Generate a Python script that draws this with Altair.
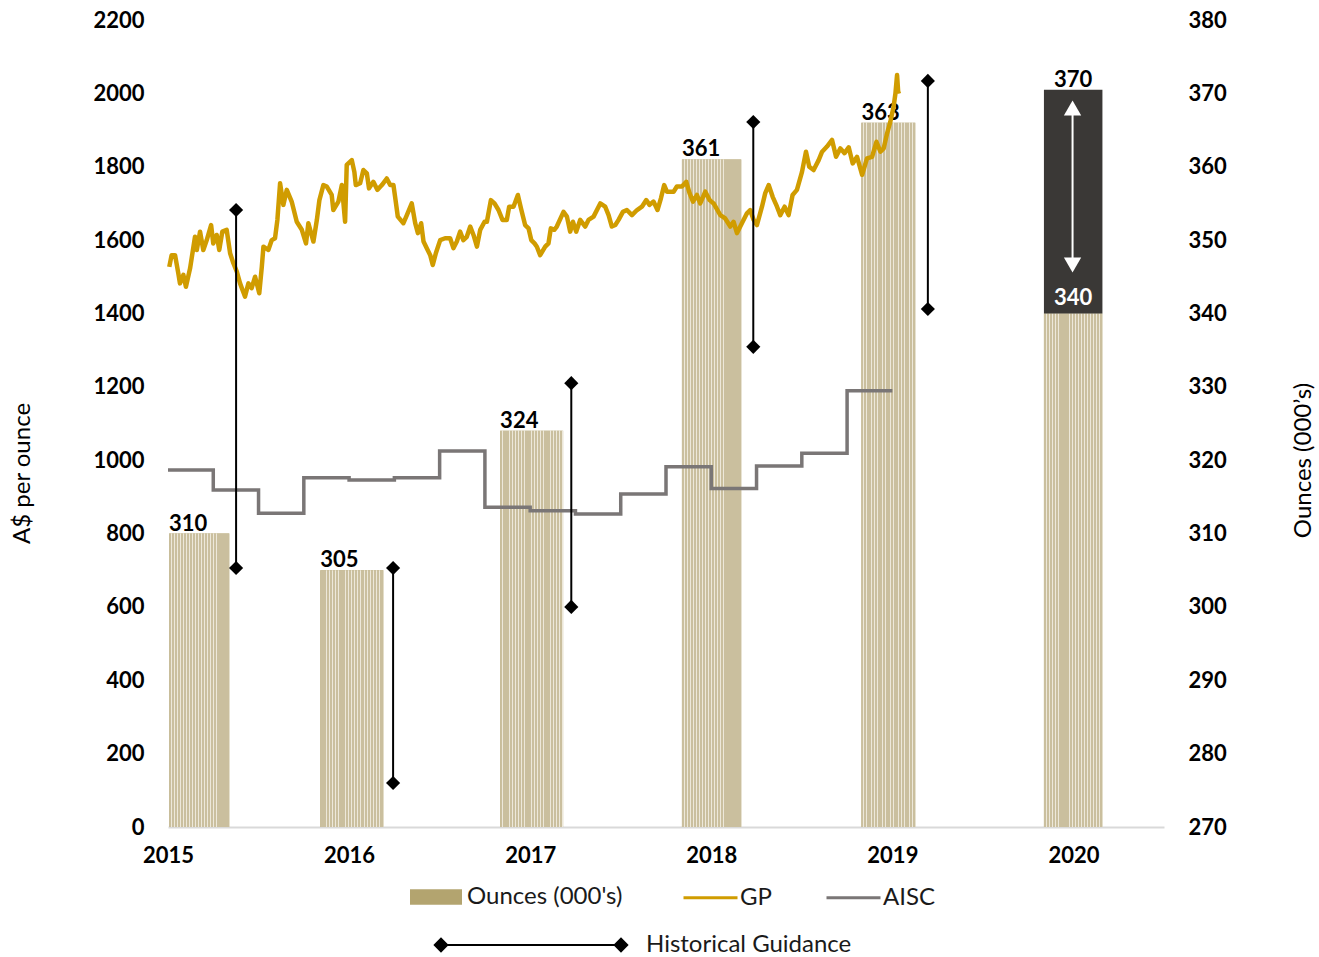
import altair as alt
import pandas as pd

# ---------------- data ----------------
# Production bars (Ounces, 000's) - right axis; x extent in decimal years
bar_year = ["2015", "2016", "2017", "2018", "2019", "2020"]
bar_start = [2015.006, 2015.841, 2016.834, 2017.838, 2018.829, 2019.837]
bar_end = [2015.339, 2016.190, 2017.182, 2018.166, 2019.127, 2020.160]
bar_ounces = [310, 305, 324, 361, 366, 340]
bar_labels = ["310", "305", "324", "361", "363", "340"]
range_2020 = [340, 370.5]
range_2020_labels = ["340", "370"]

# Gold price (A$/oz), decimal year
gp_t = [2015.007, 2015.020, 2015.039, 2015.057, 2015.066, 2015.085, 2015.099, 2015.122, 2015.149, 2015.159,
        2015.177, 2015.195, 2015.214, 2015.238, 2015.250, 2015.269, 2015.283, 2015.300, 2015.324, 2015.343,
        2015.361, 2015.380, 2015.398, 2015.425, 2015.444, 2015.462, 2015.481, 2015.504, 2015.518, 2015.527,
        2015.554, 2015.573, 2015.591, 2015.604, 2015.619, 2015.637, 2015.656, 2015.683, 2015.711, 2015.739,
        2015.762, 2015.775, 2015.803, 2015.822, 2015.836, 2015.858, 2015.877, 2015.904, 2015.913, 2015.941,
        2015.960, 2015.978, 2015.987,
        2016.015, 2016.029, 2016.037, 2016.061, 2016.079, 2016.098, 2016.110, 2016.134, 2016.156, 2016.181,
        2016.208, 2016.227, 2016.245, 2016.254, 2016.269, 2016.300, 2016.319, 2016.346, 2016.365, 2016.380,
        2016.398, 2016.411, 2016.429, 2016.448, 2016.462, 2016.479, 2016.503, 2016.530, 2016.558, 2016.576,
        2016.595, 2016.613, 2016.631, 2016.650, 2016.669, 2016.687, 2016.706, 2016.724, 2016.748, 2016.761,
        2016.783, 2016.803, 2016.825, 2016.847, 2016.871, 2016.884, 2016.908, 2016.932, 2016.949, 2016.972,
        2016.991,
        2017.006, 2017.024, 2017.037, 2017.055, 2017.083, 2017.101, 2017.114, 2017.133, 2017.147, 2017.184,
        2017.203, 2017.221, 2017.236, 2017.254, 2017.276, 2017.304, 2017.322, 2017.350, 2017.387, 2017.414,
        2017.433, 2017.451, 2017.470, 2017.488, 2017.512, 2017.534, 2017.562, 2017.590, 2017.617, 2017.641,
        2017.659, 2017.681, 2017.703, 2017.722, 2017.740, 2017.755, 2017.792, 2017.810, 2017.838, 2017.862,
        2017.880, 2017.899, 2017.921, 2017.939, 2017.967, 2017.991,
        2018.013, 2018.050, 2018.077, 2018.105, 2018.123, 2018.142, 2018.169, 2018.197, 2018.215, 2018.234,
        2018.252, 2018.280, 2018.298, 2018.317, 2018.339, 2018.363, 2018.381, 2018.405, 2018.427, 2018.449,
        2018.473, 2018.501, 2018.523, 2018.541, 2018.565, 2018.593, 2018.612, 2018.639, 2018.667, 2018.689,
        2018.713, 2018.736, 2018.759, 2018.781, 2018.805, 2018.833, 2018.860, 2018.888, 2018.912, 2018.934,
        2018.952, 2018.971, 2018.989,
        2019.007, 2019.017, 2019.026, 2019.032, 2019.044]
gp_v = [1527, 1559, 1559, 1509, 1482, 1505, 1473, 1523, 1609, 1573,
        1623, 1573, 1600, 1641, 1591, 1614, 1573, 1623, 1628, 1564,
        1537, 1514, 1482, 1446, 1482, 1469, 1500, 1455, 1527, 1582,
        1573, 1600, 1605, 1655, 1755, 1696, 1737, 1705, 1650, 1628,
        1591, 1646, 1596, 1655, 1709, 1750, 1746, 1723, 1682, 1705,
        1750, 1650, 1805,
        1818, 1786, 1750, 1755, 1791, 1782, 1741, 1759, 1737, 1750,
        1768, 1750, 1750, 1718, 1664, 1646, 1668, 1700, 1646, 1619,
        1646, 1596, 1578, 1559, 1532, 1564, 1600, 1605, 1605, 1578,
        1596, 1623, 1600, 1609, 1637, 1614, 1582, 1628, 1650, 1650,
        1709, 1700, 1682, 1655, 1655, 1691, 1691, 1723, 1687, 1641,
        1632,
        1600, 1591, 1582, 1559, 1582, 1591, 1632, 1628, 1637, 1677,
        1664, 1623, 1650, 1623, 1655, 1637, 1655, 1664, 1700, 1691,
        1668, 1637, 1641, 1655, 1677, 1682, 1668, 1682, 1691, 1709,
        1696, 1705, 1682, 1714, 1750, 1732, 1732, 1746, 1746, 1759,
        1728, 1705, 1723, 1700, 1732, 1709,
        1700, 1668, 1659, 1637, 1650, 1619, 1646, 1673, 1682, 1655,
        1641, 1691, 1728, 1750, 1718, 1691, 1668, 1691, 1668, 1723,
        1737, 1786, 1841, 1800, 1791, 1818, 1841, 1855, 1873, 1827,
        1850, 1837, 1853, 1809, 1827, 1778, 1823, 1827, 1868, 1841,
        1850, 1891, 1923,
        1964, 2000, 2050, 2005, 2007]

# AISC (A$/oz), quarterly steps
aisc_t = [2015.0, 2015.25, 2015.5, 2015.75, 2016.0, 2016.25, 2016.5, 2016.75,
          2017.0, 2017.25, 2017.5, 2017.75, 2018.0, 2018.25, 2018.5, 2018.75, 2019.0]
aisc_v = [973, 919, 855, 952, 946, 952, 1025, 872,
          862, 853, 908, 982, 923, 984, 1019, 1189, 1189]

# Historical guidance ranges (left-axis units)
guide_t = [2015.376, 2016.243, 2017.227, 2018.232, 2019.196]
guide_hi = [1682, 706, 1210, 1922, 2034]
guide_lo = [706, 120, 600, 1309, 1412]

# 2020 guidance arrow (right-axis units)
arrow_t = [2019.995]
arrow_top = [368.0]
arrow_bottom = [346.6]

x_ticks = [2015, 2016, 2017, 2018, 2019, 2020]
left_ticks = list(range(0, 2201, 200))
right_ticks = list(range(270, 381, 10))

# ---------------- styles ----------------
FONT = "Lato"
GOLD = "#D09C00"
GREY = "#7A7676"
TAN_LEG = "#B3A46F"
DARK = "#3A3836"
TXT = 24


def stripes(n, c1, c2, frac):
    stops = []
    for i in range(n):
        a, b, c = i / n, (i + frac) / n, (i + 1) / n
        stops += [alt.GradientStop(color=c1, offset=a), alt.GradientStop(color=c1, offset=b),
                  alt.GradientStop(color=c2, offset=b), alt.GradientStop(color=c2, offset=c)]
    return alt.LinearGradient(gradient="linear", stops=stops, x1=0, x2=1, y1=0, y2=0)


bars = pd.DataFrame({"year": bar_year, "start": bar_start, "end": bar_end, "oz": bar_ounces,
                     "lab": bar_labels, "leg": "Ounces (000's)"})
bars["mid"] = (bars["start"] + bars["end"]) / 2
hist_bars = bars[bars["year"] != "2020"]
bar20 = bars[bars["year"] == "2020"].copy()
bar20["lo"] = range_2020[0]
bar20["hi"] = range_2020[1]
bar20["lo_lab"] = range_2020_labels[0]
bar20["hi_lab"] = range_2020_labels[1]

gp = pd.DataFrame({"t": gp_t, "v": gp_v, "series": "GP"})
aisc = pd.DataFrame({"t": aisc_t, "v": aisc_v, "series": "AISC"})
guide = pd.DataFrame({"t": guide_t, "hi": guide_hi, "lo": guide_lo})
guide_pts = pd.DataFrame({"t": guide_t + guide_t, "v": guide_hi + guide_lo, "name": "Historical Guidance"})
arrow = pd.DataFrame({"t": arrow_t, "top": arrow_top, "bot": arrow_bottom})

xscale = alt.Scale(domain=[2015, 2020.5], nice=False, zero=False)
xaxis = alt.Axis(values=x_ticks, format="d", grid=False, ticks=False, tickSize=0, domainColor="#D9D9D9",
                 domainWidth=2, labelPadding=18, labelFont=FONT, labelFontSize=22, labelFontWeight="bold",
                 labelColor="black", title=None, labelFlush=False, labelOverlap=False)

lscale = alt.Scale(domain=[0, 2200], nice=False, zero=False)
laxis = alt.Axis(orient="left", values=left_ticks, format="d", title="A$ per ounce", grid=False, domain=False,
                 ticks=False, tickSize=0, labelPadding=24, labelFont=FONT, labelFontSize=22,
                 labelFontWeight="bold", labelColor="black", titleFont=FONT, titleFontSize=TXT,
                 titleFontWeight="normal", titleColor="black", titleAngle=270, titleX=-146, titleY=453,
                 titleBaseline="middle")
rscale = alt.Scale(domain=[270, 380], nice=False, zero=False)
raxis = alt.Axis(orient="right", values=right_ticks, format="d", title="Ounces (000\u2019s)", grid=False,
                 domain=False, ticks=False, tickSize=0, labelPadding=24, labelFont=FONT, labelFontSize=22,
                 labelFontWeight="bold", labelColor="black", titleFont=FONT, titleFontSize=TXT,
                 titleFontWeight="normal", titleColor="black", titleAngle=270, titleX=139, titleY=440,
                 titleBaseline="middle")


def X(f):
    return alt.X(f, type="quantitative", scale=xscale, axis=xaxis)


def YL(f):
    return alt.Y(f, type="quantitative", scale=lscale, axis=laxis)


def YR(f):
    return alt.Y(f, type="quantitative", scale=rscale, axis=raxis)


LEG_LABEL = dict(labelFont=FONT, labelFontSize=TXT, labelColor="#1A1A1A", labelLimit=500, title=None,
                 orient="none", direction="horizontal")

# ---- right-axis layer: bars ----
bar_base = alt.Chart(bars).mark_rect().encode(
    x=X("start"), x2="end", y=YR("oz"), y2=alt.datum(270),
    fill=alt.Fill("leg:N", scale=alt.Scale(domain=["Ounces (000's)"], range=[TAN_LEG]),
                  legend=alt.Legend(symbolType="M-1,-0.3H1V0.3H-1Z", symbolSize=2704, symbolStrokeWidth=0,
                                    labelOffset=5, legendX=242, legendY=851, **LEG_LABEL)))
bar_tex = alt.Chart(bars).mark_rect(color=stripes(20, "#CABF9E", "#EDE8DA", 0.72)).encode(
    x=X("start"), x2="end", y=YR("oz"), y2=alt.datum(270))
box = alt.Chart(bar20).mark_rect(color=DARK).encode(x=X("start"), x2="end", y=YR("hi"), y2="lo")
bar_lab = alt.Chart(hist_bars).mark_text(font=FONT, fontSize=22, fontWeight="bold", color="black",
                                         align="left", baseline="alphabetic", dy=-3).encode(
    x=X("start"), y=YR("oz"), text="lab:N")
hi_lab = alt.Chart(bar20).mark_text(font=FONT, fontSize=22, fontWeight="bold", color="black",
                                    align="center", baseline="alphabetic", dy=-3).encode(
    x=X("mid"), y=YR("hi"), text="hi_lab:N")
lo_lab = alt.Chart(bar20).mark_text(font=FONT, fontSize=22, fontWeight="bold", color="white",
                                    align="center", baseline="alphabetic", dy=-8).encode(
    x=X("mid"), y=YR("lo"), text="lo_lab:N")
arrow_line = alt.Chart(arrow).mark_rule(color="white", strokeWidth=2).encode(x=X("t"), y=YR("top"), y2="bot")
arrow_up = alt.Chart(arrow).mark_point(shape="triangle-up", filled=True, color="white", size=300,
                                       opacity=1).encode(x=X("t"), y=YR("top"))
arrow_dn = alt.Chart(arrow).mark_point(shape="triangle-down", filled=True, color="white", size=300,
                                       opacity=1).encode(x=X("t"), y=YR("bot"))
right = alt.layer(bar_base, bar_tex, box, bar_lab, hi_lab, lo_lab, arrow_line, arrow_up, arrow_dn)

# ---- left-axis layer: lines & guidance ----
stroke_enc = alt.Stroke("series:N", scale=alt.Scale(domain=["GP", "AISC"], range=[GOLD, GREY]),
                        legend=alt.Legend(symbolType="stroke", symbolSize=2916, symbolStrokeWidth=3,
                                          labelOffset=1, columnPadding=48, legendX=514, legendY=849,
                                          **LEG_LABEL))
aisc_line = alt.Chart(aisc).mark_line(strokeWidth=3.5, interpolate="step-after").encode(
    x=X("t"), y=YL("v"), stroke=stroke_enc)
gp_line = alt.Chart(gp).mark_line(strokeWidth=4.5, strokeJoin="round").encode(
    x=X("t"), y=YL("v"), stroke=stroke_enc)
guide_rule = alt.Chart(guide).mark_rule(color="black", strokeWidth=2).encode(x=X("t"), y=YL("hi"), y2="lo")
GUIDE_PATH = ("M-1,-0.012L1,-0.012L1,0.012L-1,0.012Z "
              "M-1,-0.085L-0.915,0L-1,0.085L-1.085,0Z M1,-0.085L1.085,0L1,0.085L0.915,0Z")
guide_pt = alt.Chart(guide_pts).mark_point(shape="diamond", filled=True, size=200, opacity=1).encode(
    x=X("t"), y=YL("v"),
    color=alt.Color("name:N", scale=alt.Scale(domain=["Historical Guidance"], range=["black"]),
                    legend=alt.Legend(symbolType=GUIDE_PATH, symbolSize=32400, symbolStrokeWidth=0,
                                      labelOffset=25, legendX=273, legendY=835, **LEG_LABEL)))
left = alt.layer(aisc_line, gp_line, guide_rule, guide_pt)

chart = alt.layer(right, left).resolve_scale(
    y="independent", fill="independent", stroke="independent", color="independent"
).properties(
    width=996, height=807,
    padding={"left": 168, "top": 20, "right": 155, "bottom": 130},
    autosize=alt.AutoSizeParams(type="none"),
    background="white",
).configure_view(stroke="transparent", strokeWidth=0)

chart.save("out.html", embed_options={"renderer": "svg", "actions": False})
